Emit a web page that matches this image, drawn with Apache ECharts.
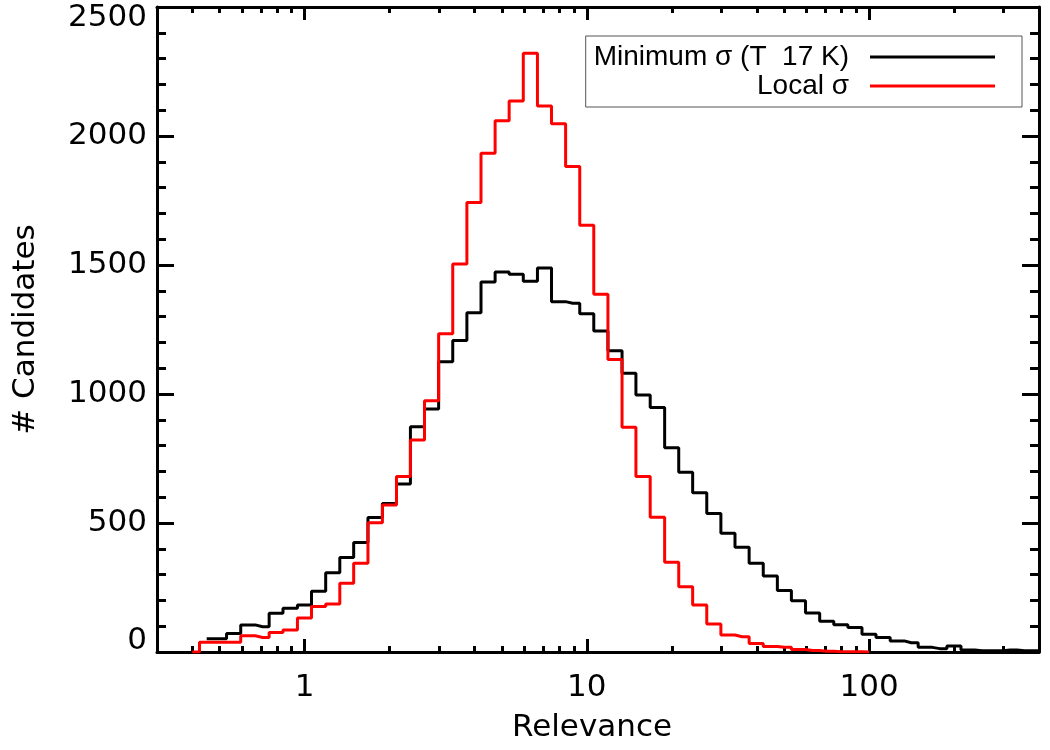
<!DOCTYPE html>
<html>
<head>
<meta charset="utf-8">
<title>Relevance histogram</title>
<script src="https://cdn.jsdelivr.net/npm/echarts@6/dist/echarts.min.js"></script>
<style>
  html, body { margin: 0; padding: 0; background: #fff; }
  #chart { width: 1050px; height: 750px; }
</style>
</head>
<body>
<div id="chart"></div>
<script>
// bin centres of the relevance histogram (0.05 dex bins)
const relevance = [
  0.40, 0.45, 0.50, 0.56, 0.63, 0.71, 0.79, 0.89,
  1.00, 1.12, 1.26, 1.41, 1.58, 1.78, 2.00, 2.24, 2.51, 2.82,
  3.16, 3.55, 3.98, 4.47, 5.01, 5.62, 6.31, 7.08, 7.94, 8.91,
  10.0, 11.2, 12.6, 14.1, 15.8, 17.8, 20.0, 22.4, 25.1, 28.2,
  31.6, 35.5, 39.8, 44.7, 50.1, 56.2, 63.1, 70.8, 79.4, 89.1,
  100, 112, 126, 141, 158, 178, 200, 224, 251, 282, 316, 355, 398
];

// counts per bin, same order as relevance (null = no bin drawn)
const minimumSigma = [
  null, 51, 51, 72, 105, 98, 150, 170,
  182, 235, 307, 366, 424, 521, 576, 651, 873, 942,
  1125, 1207, 1315, 1434, 1473, 1464, 1437, 1488, 1358, 1352,
  1311, 1244, 1168, 1080, 996, 948, 792, 697, 617, 537,
  460, 406, 344, 295, 238, 199, 151, 119, 106, 95,
  69, 56, 43, 36, 18, 13, 23, 8, 5, 5, 8, 5, 5
];
const localSigma = [
  0, 38, 38, 38, 63, 56, 76, 85,
  132, 176, 186, 266, 344, 501, 570, 680, 822, 974,
  1234, 1504, 1742, 1933, 2059, 2136, 2321, 2116, 2047, 1882,
  1654, 1387, 1134, 871, 680, 522, 348, 253, 182, 109,
  66, 59, 33, 21, 18, 10, 6, 3, 1, 1,
  0
];

const seriesNames = ['Minimum σ (T  17 K)', 'Local σ'];
const yTicks = [0, 500, 1000, 1500, 2000, 2500];
const xMinorTicks = [0.4, 0.5, 0.6, 0.7, 0.8, 0.9, 2, 3, 4, 5, 6, 7, 8, 9,
  20, 30, 40, 50, 60, 70, 80, 90, 200, 300];

const axisFont = 'DejaVu Sans';
const legendFont = 'Liberation Sans';

function pairs(counts) {
  const out = [];
  for (let i = 0; i < counts.length; i++) {
    if (counts[i] !== null) out.push([relevance[i], counts[i]]);
  }
  return out;
}

const chart = echarts.init(document.getElementById('chart'));

const frameLine = { show: true, onZero: false, lineStyle: { color: '#000', width: 3 } };
const noLine = { show: false, onZero: false };
const tickStyle = { color: '#000', width: 3 };

function xAxisBase(position) {
  return {
    type: 'log', logBase: 10, min: 0.3, max: 400, position: position,
    splitLine: { show: false }, minorTick: { show: false }, axisLabel: { show: false }
  };
}

const xAxes = [
  Object.assign(xAxisBase('bottom'), {
    axisLine: frameLine,
    axisTick: { show: true, inside: true, length: 13, lineStyle: tickStyle },
    axisLabel: {
      show: true, margin: 20, color: '#000', fontFamily: axisFont, fontSize: 31,
      showMinLabel: false, showMaxLabel: false,
      formatter: v => String(v)
    },
    name: 'Relevance', nameLocation: 'middle', nameGap: 60,
    nameTextStyle: { color: '#000', fontFamily: axisFont, fontSize: 31, padding: [0, 12, 0, 0] }
  }),
  Object.assign(xAxisBase('bottom'), {
    axisLine: noLine,
    axisTick: { show: true, inside: true, length: 6, customValues: xMinorTicks, lineStyle: tickStyle }
  }),
  Object.assign(xAxisBase('top'), {
    axisLine: frameLine,
    axisTick: { show: true, inside: true, length: 13, lineStyle: tickStyle }
  }),
  Object.assign(xAxisBase('top'), {
    axisLine: noLine,
    axisTick: { show: true, inside: true, length: 6, customValues: xMinorTicks, lineStyle: tickStyle }
  })
];

function yAxisBase(position) {
  return {
    type: 'value', min: yTicks[0], max: yTicks[yTicks.length - 1],
    interval: yTicks[1] - yTicks[0], position: position,
    axisLine: frameLine,
    axisTick: { show: true, inside: true, length: 17, lineStyle: tickStyle },
    minorTick: { show: true, splitNumber: 5, length: 9, lineStyle: tickStyle },
    splitLine: { show: false }, minorSplitLine: { show: false },
    axisLabel: { show: false }
  };
}

const yAxes = [
  Object.assign(yAxisBase('left'), {
    axisLabel: {
      show: true, margin: 10, color: '#000', fontFamily: axisFont, fontSize: 31, lineHeight: 22,
      verticalAlignMinLabel: 'bottom', verticalAlignMaxLabel: 'top',
      formatter: v => String(v)
    },
    name: '# Candidates', nameLocation: 'middle', nameGap: 116,
    nameTextStyle: { color: '#000', fontFamily: axisFont, fontSize: 31 }
  }),
  yAxisBase('right')
];

chart.setOption({
  animation: false,
  backgroundColor: '#fff',
  grid: { left: 157, right: 11, top: 7, bottom: 98, outerBoundsMode: 'none' },
  legend: {
    data: seriesNames,
    orient: 'vertical', align: 'right',
    right: 28, top: 36,
    padding: [7, 27, 7, 8],
    icon: 'rect',
    itemWidth: 125, itemHeight: 3, itemGap: 1,
    borderColor: '#555', borderWidth: 1,
    textStyle: { color: '#000', fontFamily: legendFont, fontSize: 28, lineHeight: 28, padding: [0, 16, 0, 0] }
  },
  xAxis: xAxes,
  yAxis: yAxes,
  series: [
    {
      name: seriesNames[0], type: 'line', step: 'middle',
      xAxisIndex: 0, yAxisIndex: 0,
      data: pairs(minimumSigma),
      symbol: 'none', z: 2,
      itemStyle: { color: '#000' },
      lineStyle: { color: '#000', width: 3 }
    },
    {
      name: seriesNames[1], type: 'line', step: 'middle',
      xAxisIndex: 0, yAxisIndex: 0,
      data: pairs(localSigma),
      symbol: 'none', z: 3,
      itemStyle: { color: '#ff0000' },
      lineStyle: { color: '#ff0000', width: 3 }
    }
  ]
});

window.addEventListener('resize', () => chart.resize());
</script>
</body>
</html>
